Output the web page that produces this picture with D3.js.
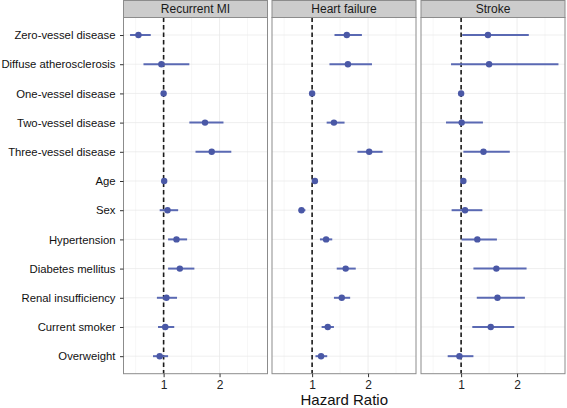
<!DOCTYPE html>
<html><head><meta charset="utf-8">
<script src="https://cdn.jsdelivr.net/npm/d3@7"></script>
<style>body{margin:0;background:#fff}svg{display:block}text{font-family:"Liberation Sans",Arial,sans-serif}</style>
</head><body><svg id="c" width="567" height="408"></svg>
<script>
const categories = ["Zero-vessel disease","Diffuse atherosclerosis","One-vessel disease","Two-vessel disease","Three-vessel disease","Age","Sex","Hypertension","Diabetes mellitus","Renal insufficiency","Current smoker","Overweight"];
const panels = ["Recurrent MI","Heart failure","Stroke"];
// hazard ratio, lower CI, upper CI per category
const miHR = [0.55,0.96,1.00,1.74,1.86,1.01,1.07,1.23,1.29,1.05,1.03,0.93];
const miLo = [0.40,0.64,1.00,1.46,1.57,0.99,0.93,1.08,1.08,0.88,0.90,0.81];
const miHi = [0.77,1.46,1.00,2.07,2.21,1.03,1.26,1.42,1.55,1.24,1.19,1.08];
const hfHR = [1.62,1.64,1.00,1.39,2.02,1.05,0.81,1.25,1.60,1.53,1.28,1.16];
const hfLo = [1.40,1.31,1.00,1.26,1.81,1.03,0.76,1.14,1.44,1.39,1.17,1.06];
const hfHi = [1.89,2.07,1.00,1.58,2.26,1.07,0.88,1.36,1.78,1.68,1.39,1.27];
const stHR = [1.48,1.50,1.00,1.01,1.40,1.04,1.07,1.29,1.63,1.65,1.53,0.97];
const stLo = [1.02,0.82,1.00,0.73,1.04,1.02,0.83,1.01,1.22,1.28,1.20,0.76];
const stHi = [2.21,2.74,1.00,1.39,1.87,1.06,1.38,1.64,2.17,2.14,1.95,1.22];
const xTicks = [1,2];
const xMinor = [0.5,1.5,2.5];
const refLine = 1;

const series = [[miHR,miLo,miHi],[hfHR,hfLo,hfHi],[stHR,stLo,stHi]];
const svg = d3.select("#c");
const panelLeft = [123.5,272,421], panelW = 144;
const pTop = 17.5, pBottom = 373.7, stripTop = 0.5;

const all = series.flatMap(s => s[1].concat(s[2]));
const ext = d3.extent(all), pad = (ext[1]-ext[0])*0.05;
const y = d3.scalePoint().domain(categories).range([pTop, pBottom]).padding(0.6);

panels.forEach((name, pi) => {
  const x0 = panelLeft[pi];
  const x = d3.scaleLinear().domain([ext[0]-pad, ext[1]+pad]).range([x0, x0+panelW]);
  const g = svg.append("g");
  g.append("rect").attr("x",x0).attr("y",pTop).attr("width",panelW).attr("height",pBottom-pTop).attr("fill","#fff");
  g.selectAll(".mn").data(xMinor).join("line").attr("x1",d=>x(d)).attr("x2",d=>x(d)).attr("y1",pTop).attr("y2",pBottom).attr("stroke","#f2f2f2").attr("stroke-width",0.6);
  g.selectAll(".mjx").data(xTicks).join("line").attr("x1",d=>x(d)).attr("x2",d=>x(d)).attr("y1",pTop).attr("y2",pBottom).attr("stroke","#e5e5e5").attr("stroke-width",0.7);
  g.selectAll(".mjy").data(categories).join("line").attr("x1",x0).attr("x2",x0+panelW).attr("y1",d=>y(d)).attr("y2",d=>y(d)).attr("stroke","#e8e8e8").attr("stroke-width",0.7);
  g.append("line").attr("x1",x(refLine)).attr("x2",x(refLine)).attr("y1",pTop).attr("y2",pBottom).attr("stroke","#1a1a1a").attr("stroke-width",1.6).attr("stroke-dasharray","4.5,3");
  const [hr, lo, hi] = series[pi];
  const data = categories.map((c,i)=>({c, hr:hr[i], lo:lo[i], hi:hi[i]}));
  g.selectAll(".ci").data(data.filter(d=>d.hi>d.lo)).join("line").attr("x1",d=>x(d.lo)).attr("x2",d=>x(d.hi)).attr("y1",d=>y(d.c)).attr("y2",d=>y(d.c)).attr("stroke","#5a69b3").attr("stroke-width",2);
  g.selectAll(".pt").data(data).join("circle").attr("cx",d=>x(d.hr)).attr("cy",d=>y(d.c)).attr("r",3.2).attr("fill","#4a58a6");
  g.append("rect").attr("x",x0).attr("y",pTop).attr("width",panelW).attr("height",pBottom-pTop).attr("fill","none").attr("stroke","#8c8c8c").attr("stroke-width",1);
  g.append("rect").attr("x",x0).attr("y",stripTop).attr("width",panelW).attr("height",pTop-stripTop).attr("fill","#cccccc").attr("stroke","#8c8c8c").attr("stroke-width",1);
  g.append("text").attr("x",x0+panelW/2).attr("y",(pTop+stripTop)/2).attr("dy","0.36em").attr("text-anchor","middle").attr("font-size",12).attr("fill","#1a1a1a").text(name);
  const ax = svg.append("g").attr("transform",`translate(0,${pBottom})`).call(d3.axisBottom(x).tickValues(xTicks).tickSize(3.5).tickPadding(3).tickFormat(d3.format("d")));
  ax.select(".domain").remove();
  ax.selectAll("line").attr("stroke","#333");
  ax.selectAll("text").attr("font-size",12).attr("fill","#222").style("font-family","'Liberation Sans',Arial,sans-serif");
});

const ay = svg.append("g").attr("transform",`translate(${panelLeft[0]},0)`).call(d3.axisLeft(y).tickSize(3.5).tickPadding(4.5));
ay.select(".domain").remove();
ay.selectAll("line").attr("stroke","#333");
ay.selectAll("text").attr("font-size",11.3).attr("fill","#111").style("font-family","'Liberation Sans',Arial,sans-serif");

svg.append("text").attr("x",(panelLeft[0]+panelLeft[2]+panelW)/2).attr("y",405).attr("text-anchor","middle").attr("font-size",15).attr("fill","#111").text("Hazard Ratio");
</script></body></html>
